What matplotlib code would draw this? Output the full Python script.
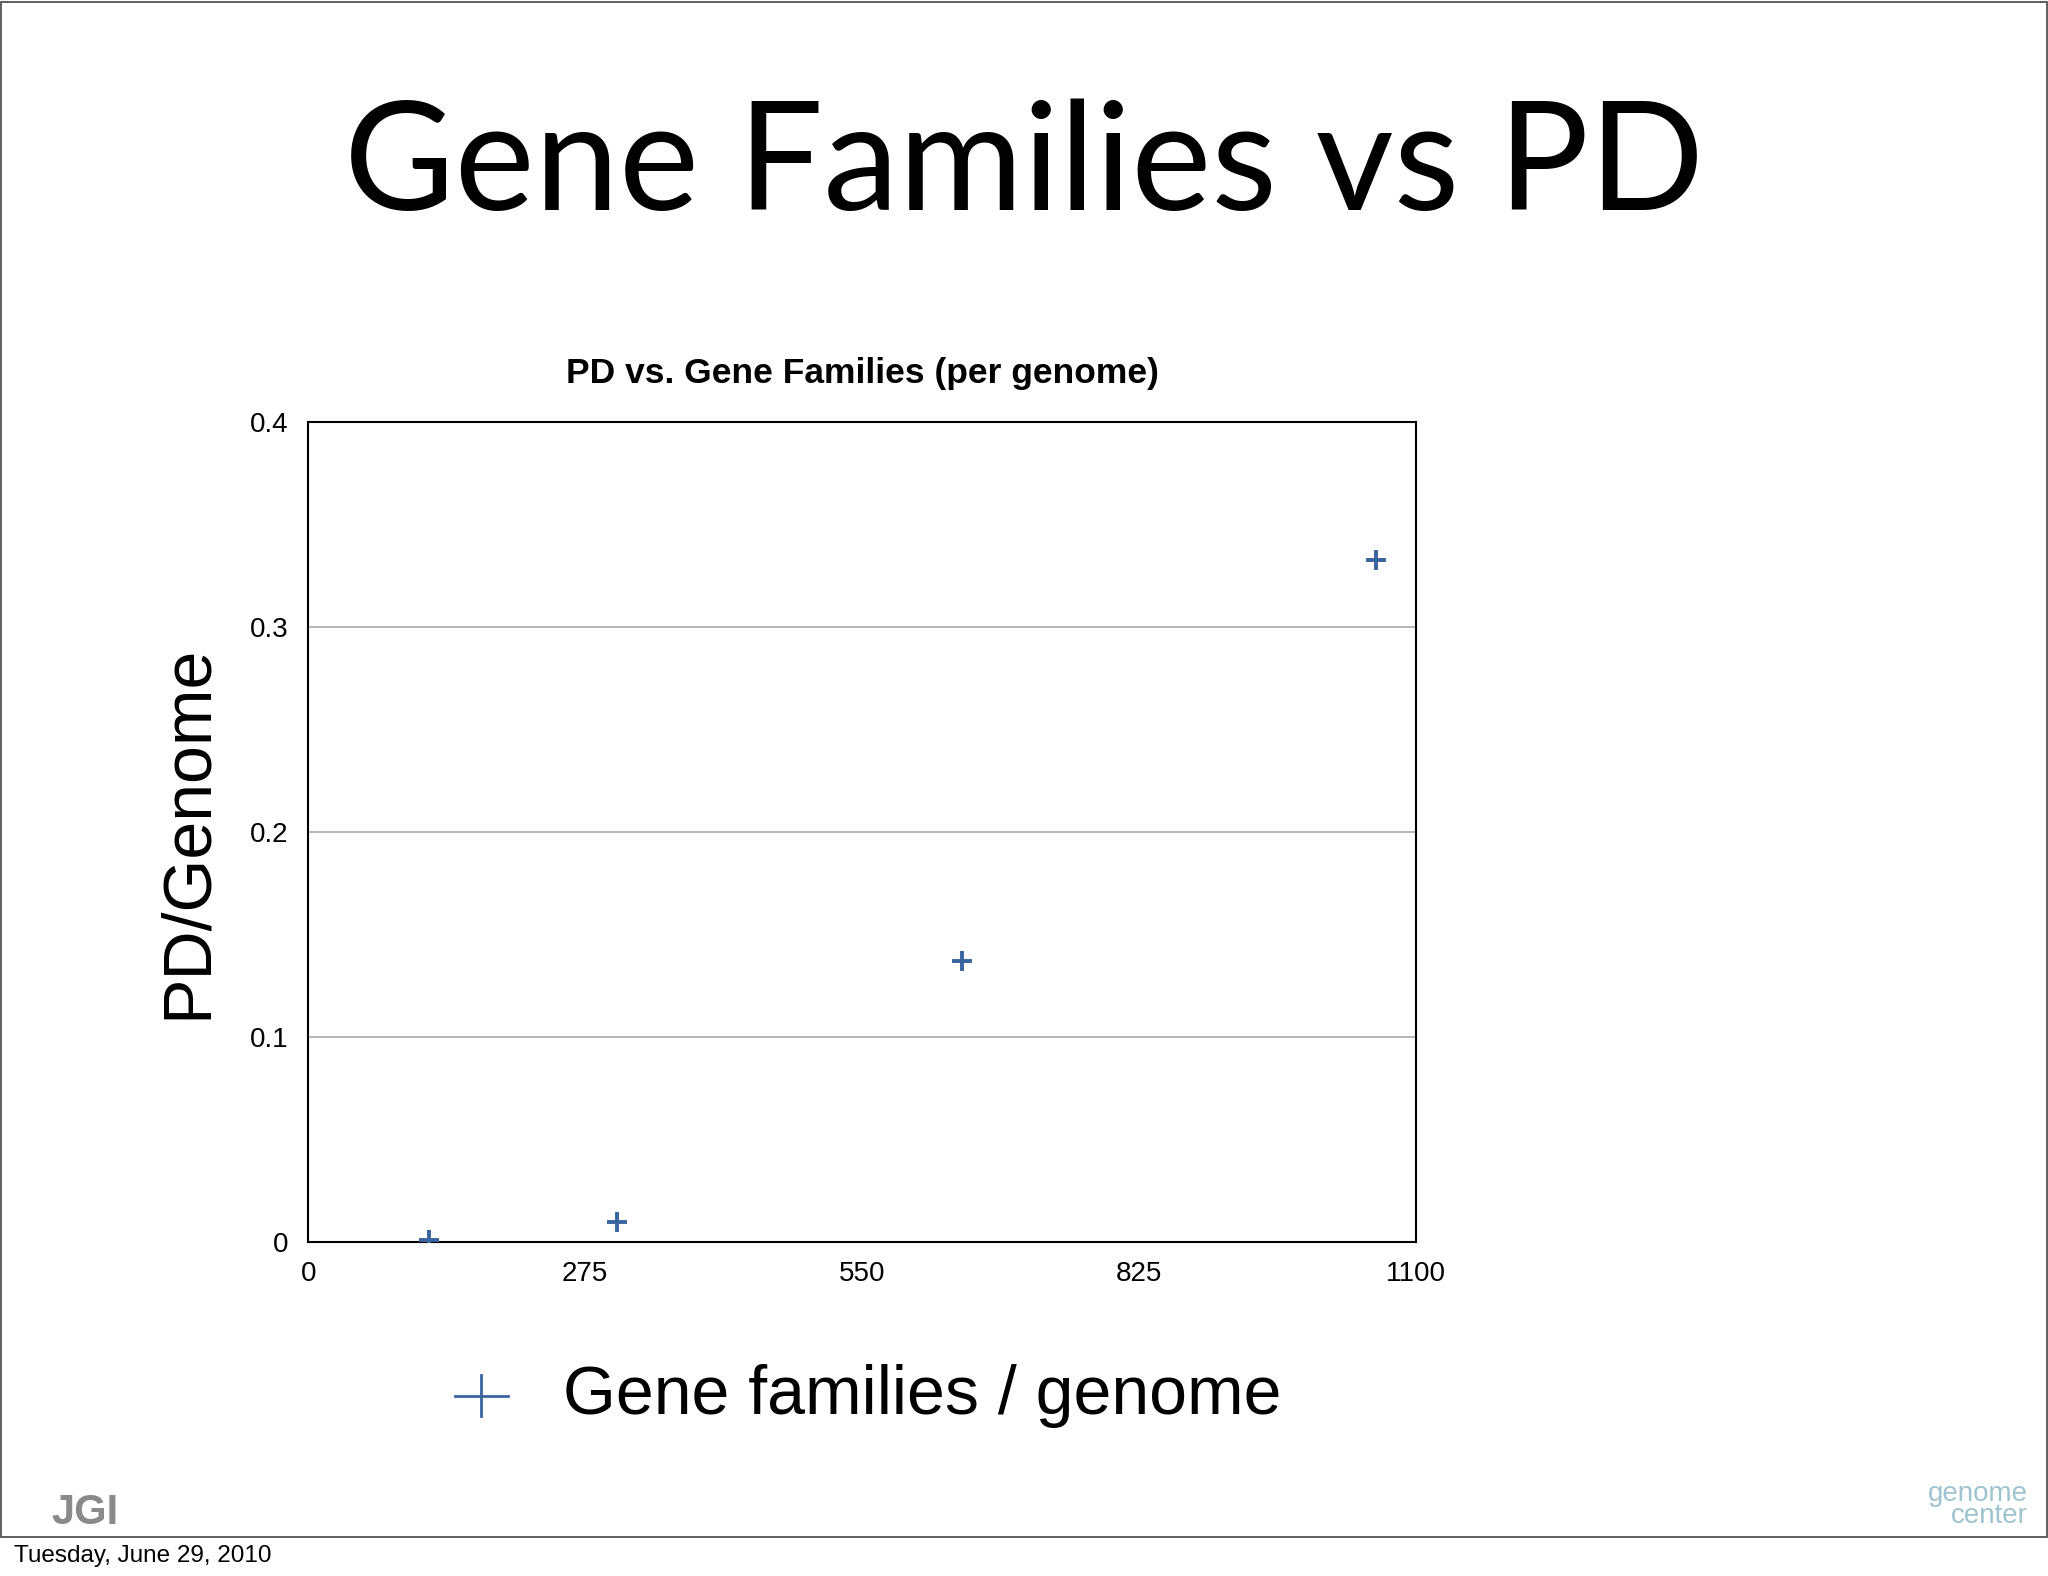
import matplotlib.pyplot as plt
from matplotlib.patches import Rectangle
from matplotlib.lines import Line2D

gene_families = [120, 307, 649, 1060]
pd_per_genome = [0.001, 0.0096, 0.137, 0.3325]
x_ticks = [0, 275, 550, 825, 1100]
y_ticks = [0, 0.1, 0.2, 0.3, 0.4]
y_tick_labels = ["0", "0.1", "0.2", "0.3", "0.4"]

plt.rcParams["font.family"] = ["Liberation Sans", "DejaVu Sans"]

fig = plt.figure(figsize=(20.48, 15.76), dpi=100)
fig.patches.append(Rectangle((0.0005, 0.025), 0.999, 0.974, transform=fig.transFigure,
                             fill=False, edgecolor="#444444", linewidth=1.2))

fig.text(0.5, 0.894, "Gene Families vs PD", ha="center", va="center",
         fontsize=109, family=["Lato", "DejaVu Sans"])

ax = fig.add_axes([0.1505, 0.212, 0.5408, 0.5204])
ax.scatter(gene_families, pd_per_genome, marker="+", s=220, color="#3a64a0", linewidths=2.8,
           zorder=3)
ax.set_xlim(0, 1100)
ax.set_ylim(0, 0.4)
ax.set_xticks(x_ticks)
ax.set_yticks(y_ticks)
ax.set_yticklabels(y_tick_labels)
ax.tick_params(length=0, labelsize=20, pad=14)
ax.grid(axis="y", color="#aaaaaa", linewidth=1.2)
ax.set_axisbelow(True)
for s in ax.spines.values():
    s.set_linewidth(1.5)
ax.set_title("PD vs. Gene Families (per genome)", fontsize=25.5, fontweight="bold", pad=28)
ax.set_ylabel("PD/Genome", fontsize=49, labelpad=22)

fig.lines.append(Line2D([0.222, 0.248], [0.1145, 0.1145], transform=fig.transFigure,
                        color="#3a64a0", linewidth=2))
fig.lines.append(Line2D([0.235, 0.235], [0.1015, 0.1275], transform=fig.transFigure,
                        color="#3a64a0", linewidth=2))
fig.text(0.275, 0.1145, "Gene families / genome", fontsize=49, va="center")

fig.text(0.025, 0.04, "JGI", fontsize=30, fontweight="bold", color="#8a8a8a", va="center")
fig.text(0.99, 0.045, "genome\ncenter", fontsize=20, color="#9fc3cf", ha="right", va="center",
         linespacing=0.8)
fig.text(0.007, 0.013, "Tuesday, June 29, 2010", fontsize=17.5, va="center")

fig.savefig("out.png", dpi=100)
